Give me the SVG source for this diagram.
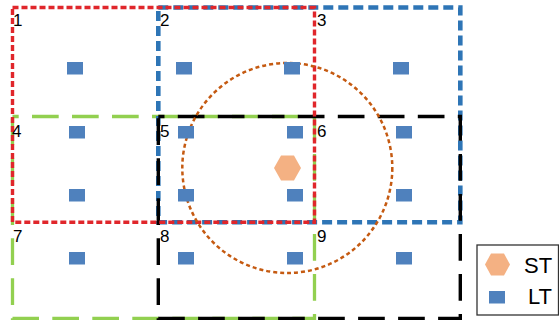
<svg xmlns="http://www.w3.org/2000/svg" width="559" height="320" viewBox="0 0 559 320">
<style>
.num{font-family:"Liberation Sans",Arial,sans-serif;font-size:17px;fill:#000}
.leg{font-family:"Liberation Sans",Arial,sans-serif;font-size:22px;fill:#000}
.lt{fill:#4F81BD}
.st{fill:#F4B183}
.r{fill:none}
</style>
<rect width="559" height="320" fill="#fff"/>
<g id="regions">
<rect id="green" class="r" x="12.5" y="116.5" width="302" height="202" stroke="#92D050" stroke-width="3.3" stroke-dasharray="26.7 13.3" stroke-dashoffset="20.5"/>
<rect id="blue" class="r" x="158.3" y="7.5" width="302" height="214.8" stroke="#2E75B6" stroke-width="4.6" stroke-dasharray="10 5"/>
<rect id="black" class="r" x="158.3" y="116.5" width="302" height="202" stroke="#000" stroke-width="3.4" stroke-dasharray="26.7 13.3" stroke-dashoffset="20.5"/>
<rect id="red" class="r" x="12.5" y="7.5" width="302" height="214.8" stroke="#E0262B" stroke-width="3.4" stroke-dasharray="6 3"/>
<circle id="range" cx="287.3" cy="168" r="105" fill="none" stroke="#C55A11" stroke-width="2.5" stroke-dasharray="4 3"/>
</g>
<g id="labels">
<text class="num" x="13" y="26">1</text>
<text class="num" x="160" y="26">2</text>
<text class="num" x="317" y="26">3</text>
<text class="num" x="12" y="137">4</text>
<text class="num" x="160" y="137">5</text>
<text class="num" x="317" y="137">6</text>
<text class="num" x="13" y="242">7</text>
<text class="num" x="160" y="242">8</text>
<text class="num" x="317" y="242">9</text>
</g>
<g id="lts">
<rect class="lt" x="67" y="62" width="16" height="12.5"/>
<rect class="lt" x="176" y="62" width="16" height="12.5"/>
<rect class="lt" x="284" y="62" width="16" height="12.5"/>
<rect class="lt" x="393" y="62" width="16" height="12.5"/>
<rect class="lt" x="69" y="126" width="16" height="12.5"/>
<rect class="lt" x="178" y="126" width="16" height="12.5"/>
<rect class="lt" x="287" y="126" width="16" height="12.5"/>
<rect class="lt" x="396" y="126" width="16" height="12.5"/>
<rect class="lt" x="69" y="189" width="16" height="12.5"/>
<rect class="lt" x="178" y="189" width="16" height="12.5"/>
<rect class="lt" x="287" y="189" width="16" height="12.5"/>
<rect class="lt" x="396" y="189" width="16" height="12.5"/>
<rect class="lt" x="69" y="252" width="16" height="12.5"/>
<rect class="lt" x="178" y="252" width="16" height="12.5"/>
<rect class="lt" x="287" y="252" width="16" height="12.5"/>
<rect class="lt" x="396" y="252" width="16" height="12.5"/>
</g>
<g id="st">
<polygon class="st" points="274,168 281,155.5 294,155.5 301,168 294,180.5 281,180.5"/>
</g>
<g id="legend">
<rect x="477" y="245" width="81.5" height="70" fill="#fff" stroke="#333" stroke-width="1.3"/>
<polygon class="st" points="485,264.5 491,253.5 504,253.5 510,264.5 504,275.5 491,275.5"/>
<text class="leg" x="524" y="273">ST</text>
<rect class="lt" x="489" y="291" width="16" height="12.5"/>
<text class="leg" x="528" y="304">LT</text>
</g>
</svg>
